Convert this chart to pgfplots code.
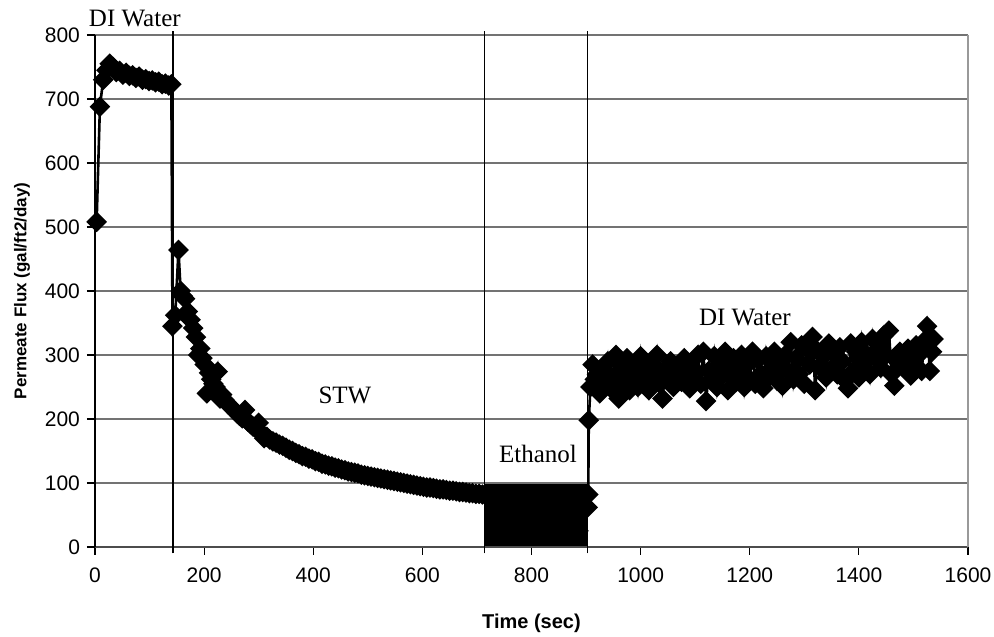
\documentclass[border=0pt]{standalone}
\usepackage{fontspec}
\setmainfont{Liberation Sans}
\newfontfamily\timesf{Liberation Serif}
\usepackage{pgfplots}
\pgfplotsset{compat=1.18}
\begin{document}
\begin{tikzpicture}
\begin{axis}[
  scale only axis, width=436.5pt, height=256pt,
  xmin=0, xmax=1600, ymin=0, ymax=800,
  xtick={0,200,...,1600}, ytick={0,100,...,800},
  axis lines*=left,
  x axis line style={draw=black!70, line width=0.6pt},
  y axis line style={draw=black, line width=0.6pt},
  tick align=outside, major tick length=4pt,
  tick style={black, line width=0.6pt},
  ymajorgrids, grid style={draw=black!55, line width=0.6pt},
  /pgf/number format/assume math mode=true,
  /pgf/number format/1000 sep={},
  scaled ticks=false,
  ticklabel style={font=\fontsize{10.5}{12}\selectfont},
  xticklabel style={yshift=-3pt},
  xlabel={Time (sec)}, ylabel={Permeate Flux (gal/ft2/day)},
  xlabel style={font=\bfseries\fontsize{10}{12}\selectfont, at={(axis description cs:0.5,0)}, anchor=center, yshift=-38pt},
  ylabel style={font=\bfseries\fontsize{8.5}{10}\selectfont, at={(axis description cs:0,0.5)}, anchor=center, yshift=36.5pt},
  clip=false,
]
\coordinate (bl) at (rel axis cs:0,0);
\coordinate (tr) at (rel axis cs:1,1);
\draw[black!40, line width=0.8pt] (rel axis cs:1,0) -- (rel axis cs:1,1);
% ethanol block
\addplot[fill=black, draw=black, line width=0.5pt] coordinates {(715,3) (903,3) (903,97) (715,97)} --cycle;
% vertical separators
\draw[black, line width=0.7pt] (axis cs:143,-10) -- (axis cs:143,806);
\draw[black, line width=0.7pt] (axis cs:714,-10) -- (axis cs:714,806);
\draw[black, line width=0.7pt] (axis cs:903,-10) -- (axis cs:903,806);
\addplot[black, line width=1.3pt, mark=square*, mark size=3pt, mark options={rotate=45, solid, fill=black}] coordinates {
(3,508) (9,688) (15,730) (21,745) (27,755) (33,750) (39,742) (45,744) (51,738) (57,741) (63,736) (69,737) (75,733) (81,735) (87,730) (93,731) (99,728) (105,729) (111,726) (117,727) (123,723) (129,724) (135,721) (140,723)
(142,345) (147,362) (153,464) (157,400) (161,392) (165,388) (170,368) (175,355) (180,342) (185,328) (189,300) (193,310) (197,295) (201,285) (205,240) (209,272) (213,262) (217,255) (221,250) (225,274) (229,232) (233,238) (237,230) (241,226) (245,222) (250,218) (255,214) (260,209) (265,205) (270,201) (275,214) (280,196) (285,192) (290,188) (295,185) (300,194) (305,178) (310,170) (315,172) (320,168) (326,165) (332,163) (338,160) (344,158) (350,155) (356,152) (362,150) (368,147) (374,145) (380,142) (386,141) (392,138) (398,137) (404,134) (410,133) (416,130) (422,129) (428,127) (434,126) (440,124) (446,123) (452,121) (458,120) (464,118) (470,117) (476,116) (482,115) (488,113) (494,112) (500,111) (506,110) (512,109) (518,108) (524,107) (530,106) (536,105) (542,104) (548,103) (554,102) (560,101) (566,100) (572,99) (578,98) (584,97) (590,96) (596,95) (602,94) (608,93) (614,93) (620,92) (626,91) (632,90) (638,90) (644,89) (650,88) (656,88) (662,87) (668,86) (674,86) (680,85) (686,84) (692,84) (698,83) (704,83) (710,82) (714,82)
(730,75) (734,25) (738,75) (742,25) (746,75) (750,25) (754,75) (758,25) (762,75) (766,25) (770,75) (774,25) (778,75) (782,25) (786,75) (790,25) (794,75) (798,25) (802,75) (806,25) (810,75) (814,25) (818,75) (822,25) (826,75) (830,25) (834,75) (838,25) (842,75) (846,25) (850,75) (854,25) (858,75) (862,25) (866,75) (870,25) (874,75) (878,25) (882,75) (886,25) (890,70)
(903,62) (904,82) (905,198) (908,250) (912,285) (916,262) (920,270) (925,240) (930,278) (935,255) (940,290) (945,248) (950,265) (955,300) (960,232) (965,282) (970,258) (975,295) (980,245) (985,270) (990,285) (995,250) (1000,298) (1005,262) (1010,275) (1015,245) (1020,288) (1025,268) (1030,300) (1035,255) (1040,232) (1045,278) (1050,262) (1055,290) (1060,250) (1065,272) (1070,285) (1075,258) (1080,295) (1085,265) (1090,248) (1095,280) (1100,270) (1105,300) (1110,255) (1115,305) (1120,228) (1125,275) (1130,262) (1135,298) (1140,250) (1145,285) (1150,268) (1155,305) (1160,245) (1165,280) (1170,295) (1175,258) (1180,272) (1185,300) (1190,250) (1195,285) (1200,262) (1205,305) (1210,255) (1215,292) (1220,270) (1225,248) (1230,298) (1235,265) (1240,280) (1245,305) (1250,260) (1255,288) (1260,252) (1265,300) (1270,275) (1275,320) (1280,262) (1285,295) (1290,270) (1295,315) (1300,255) (1305,310) (1310,285) (1315,328) (1320,245) (1325,305) (1330,280) (1335,298) (1340,265) (1345,318) (1350,278) (1355,302) (1360,270) (1365,312) (1370,290) (1375,260) (1380,248) (1385,318) (1390,275) (1395,305) (1400,265) (1405,320) (1410,288) (1415,300) (1420,270) (1425,325) (1430,295) (1435,310) (1440,280) (1445,330) (1450,300) (1455,338) (1460,270) (1465,252) (1470,290) (1475,305) (1480,282) (1485,300) (1490,310) (1495,268) (1500,290) (1505,315) (1510,300) (1515,275) (1520,322) (1525,345) (1530,275) (1534,305) (1537,325)
};
\node[font=\timesf\fontsize{12.5}{14}\selectfont] at (axis cs:73,826) {DI Water};
\node[font=\timesf\fontsize{12.5}{14}\selectfont] at (axis cs:458,237) {STW};
\node[font=\timesf\fontsize{12.5}{14}\selectfont] at (axis cs:812,145) {Ethanol};
\node[font=\timesf\fontsize{12.5}{14}\selectfont] at (axis cs:1191,359) {DI Water};
\end{axis}
\pgfresetboundingbox
\path ([shift={(-47.5pt,-45pt)}]bl) rectangle ([shift={(13pt,17.5pt)}]tr);
\end{tikzpicture}
\end{document}
